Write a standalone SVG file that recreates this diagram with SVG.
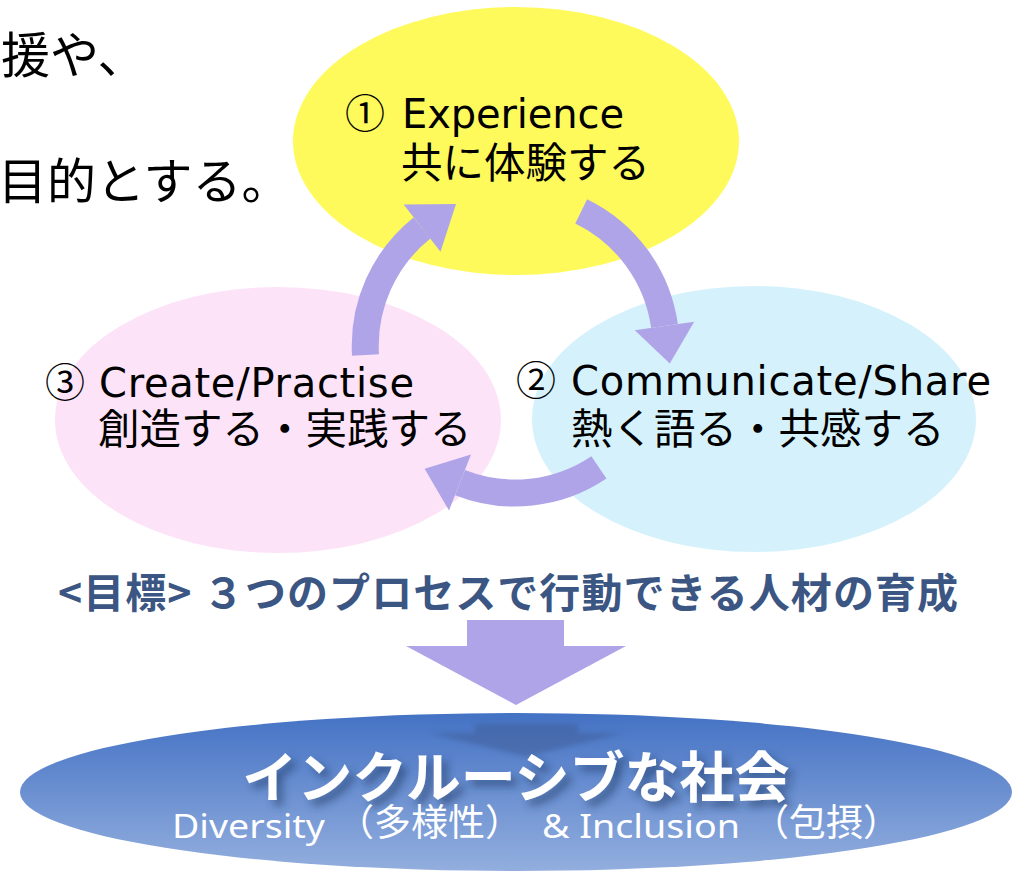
<svg xmlns="http://www.w3.org/2000/svg" width="1014" height="871" viewBox="0 0 1014 871">
  <defs>
    <style>
      .jp { font-family: "Noto Sans CJK JP", "Noto Sans", sans-serif; }
      .node { fill: #000; }
      .node-jp { font-family: "Noto Sans CJK JP", sans-serif; font-size: 41.5px; }
      .node-en { font-family: "DejaVu Sans", "Noto Sans CJK JP", sans-serif; font-size: 40px; }
      .num { font-family: "Noto Sans CJK JP", sans-serif; font-size: 40px; }
      .shaft { fill: none; stroke: #AFA4E8; stroke-width: 27; stroke-linecap: butt; }
      .head { fill: #AFA4E8; }
      .sub { font-size: 33px; fill: #FFFFFF; }
      .sub-lat { font-family: "Noto Sans", "Noto Sans CJK JP", sans-serif; }
      .sub-jp { font-size: 37px; }
    </style>
    <linearGradient id="gSoc" x1="0" y1="0" x2="0" y2="1">
      <stop offset="0" stop-color="#4472C4"/>
      <stop offset="1" stop-color="#93AEDE"/>
    </linearGradient>
    <filter id="blur2" x="-20%" y="-50%" width="140%" height="200%">
      <feGaussianBlur stdDeviation="2.5"/>
    </filter>
    <filter id="tshadow" x="-10%" y="-30%" width="120%" height="160%">
      <feDropShadow dx="6" dy="6" stdDeviation="4" flood-color="#1F3864" flood-opacity="0.6"/>
    </filter>
  </defs>

  <rect width="1014" height="871" fill="#FFFFFF"/>

  <!-- cut-off body text at top left -->
  <g id="bodytext" class="jp" font-size="49" fill="#000">
    <text x="1" y="73">援や、</text>
    <text x="-2" y="199">目的とする。</text>
  </g>

  <!-- nodes -->
  <g id="node-experience">
    <ellipse cx="516" cy="141" rx="223" ry="134" fill="#FFFA5C"/>
  </g>
  <g id="node-create">
    <ellipse cx="278" cy="420" rx="223" ry="133" fill="#FDE3F8"/>
  </g>
  <g id="node-communicate">
    <ellipse cx="754" cy="419" rx="222" ry="133" fill="#D5F2FC"/>
  </g>

  <!-- connectors (cycle arrows) -->
  <g id="connectors">
    <path class="shaft" d="M 365.5 355 A 151 151 0 0 1 422.0 228.0"/>
    <polygon class="head" points="403.6,204.4 456,204 440.5,251.7"/>
    <path class="shaft" d="M 581.2 211.3 A 151 151 0 0 1 664.5 326.0"/>
    <polygon class="head" points="634.8,330.2 694.2,321.8 669.8,363.6"/>
    <path class="shaft" d="M 598.9 467.4 A 150 150 0 0 1 460.0 482.6"/>
    <polygon class="head" points="471.0,454.6 449.0,510.5 424.6,468.7"/>
  </g>

  <!-- node labels -->
  <g id="label-experience" class="node">
    <text y="128"><tspan class="num" x="345">①</tspan><tspan class="node-en" x="402" textLength="222" lengthAdjust="spacing">Experience</tspan></text>
    <text class="node-jp" x="401" y="178">共に体験する</text>
  </g>
  <g id="label-create" class="node">
    <text y="397"><tspan class="num" x="45">③</tspan><tspan class="node-en" x="99" textLength="315" lengthAdjust="spacing">Create/Practise</tspan></text>
    <text class="node-jp" x="98" y="444">創造する・実践する</text>
  </g>
  <g id="label-communicate" class="node">
    <text y="395"><tspan class="num" x="516">②</tspan><tspan class="node-en" x="571" textLength="420" lengthAdjust="spacing">Communicate/Share</tspan></text>
    <text class="node-jp" x="571" y="444">熱く語る・共感する</text>
  </g>

  <!-- goal text -->
  <g id="goal">
    <text class="jp" x="58" y="608" font-size="41" font-weight="bold" fill="#3B5683" textLength="900" lengthAdjust="spacing">&lt;目標&gt; ３つのプロセスで行動できる人材の育成</text>
  </g>

  <!-- big down arrow -->
  <g id="down-arrow">
    <polygon points="467,620 564,620 564,646 626,646 516,705 406,646 467,646" fill="#AFA4E8"/>
  </g>

  <!-- society ellipse -->
  <g id="node-society">
    <ellipse cx="516" cy="792" rx="496" ry="79" fill="url(#gSoc)"/>
    <polygon points="475,724 578,724 578,733 623,733 526,757 430,733 475,733" fill="#3F5F99" opacity="0.55" filter="url(#blur2)"/>
    <text class="jp" x="516" y="797" font-size="55" font-weight="bold" fill="#FFFFFF" text-anchor="middle" filter="url(#tshadow)">インクルーシブな社会</text>
    <text class="sub jp" y="838"><tspan class="sub-lat" x="172" textLength="153" lengthAdjust="spacingAndGlyphs">Diversity</tspan><tspan class="sub-jp" x="337" y="836">（多様性）</tspan><tspan class="sub-lat" x="542" y="838" textLength="198" lengthAdjust="spacingAndGlyphs">&amp; Inclusion</tspan><tspan class="sub-jp" x="752" y="836">（包摂）</tspan></text>
  </g>
</svg>
